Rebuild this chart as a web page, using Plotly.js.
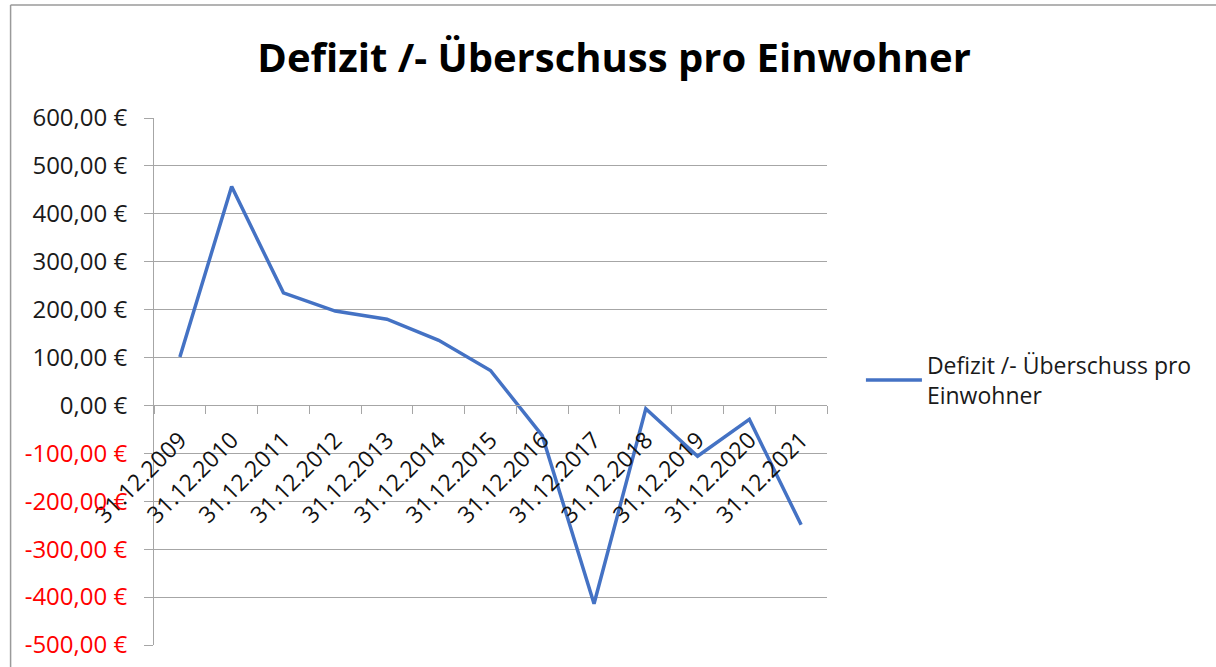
<!DOCTYPE html>
<html>
<head>
<meta charset="utf-8">
<script src="https://cdn.plot.ly/plotly-3.0.1.min.js"></script>
<style>
html,body{margin:0;padding:0;background:#fff;}
#chart{width:1216px;height:667px;}
</style>
</head>
<body>
<div id="chart"></div>
<script>
const categories = ["31.12.2009","31.12.2010","31.12.2011","31.12.2012","31.12.2013","31.12.2014","31.12.2015","31.12.2016","31.12.2017","31.12.2018","31.12.2019","31.12.2020","31.12.2021"];
const values = [101, 457, 235, 197, 180, 136, 73, -63, -414, -7, -106, -29, -249];
const seriesName = "Defizit /- Überschuss pro<br>Einwohner";
const chartTitle = "Defizit /- Überschuss pro Einwohner";
const yTickVals = [600, 500, 400, 300, 200, 100, 0, -100, -200, -300, -400, -500];
const yTickText = ["600,00 €","500,00 €","400,00 €","300,00 €","200,00 €","100,00 €","0,00 €","-100,00 €","-200,00 €","-300,00 €","-400,00 €","-500,00 €"];

const yMin = -500, yMax = 600;
const tickTextStyled = yTickText.map((t, i) => yTickVals[i] < 0 ? '<span style="color:#ff0000">' + t + '</span>' : t);

const font = "Open Sans, Noto Sans, Liberation Sans, sans-serif";

const trace = {
  x: categories,
  y: values,
  type: 'scatter',
  mode: 'lines',
  name: seriesName,
  line: {color: '#4472c4', width: 3.5},
  showlegend: true
};

const layout = {
  width: 1216,
  height: 667,
  margin: {l: 154, r: 389, t: 118, b: 22},
  paper_bgcolor: '#ffffff',
  plot_bgcolor: '#ffffff',
  font: {family: font, color: '#1a1a1a', size: 20},
  title: {
    text: chartTitle,
    font: {family: font, size: 40, color: '#000000', weight: 'bold'},
    x: 0.505, xref: 'container', xanchor: 'center',
    y: 0.913, yref: 'container', yanchor: 'middle'
  },
  xaxis: {
    type: 'category',
    range: [-0.5, categories.length - 0.5],
    anchor: 'free',
    position: (0 - yMin) / (yMax - yMin),
    showline: true, linecolor: '#a6a6a6', linewidth: 1,
    showgrid: false, zeroline: false,
    ticks: 'outside', tickson: 'boundaries', ticklen: 8, tickcolor: '#a6a6a6',
    tickangle: -45,
    ticklabelstandoff: 11,
    tickfont: {family: font, size: 23, color: '#111111'},
    fixedrange: true
  },
  yaxis: {
    range: [yMin, yMax],
    tickvals: yTickVals,
    ticktext: tickTextStyled,
    showline: true, linecolor: '#a6a6a6', linewidth: 1,
    showgrid: true, gridcolor: '#a6a6a6', gridwidth: 1,
    zeroline: false,
    ticks: 'outside', ticklen: 9, tickcolor: '#a6a6a6',
    ticklabelstandoff: 12,
    tickfont: {family: font, size: 24, color: '#1a1a1a'},
    fixedrange: true
  },
  legend: {
    x: 0.708, xref: 'container', xanchor: 'left',
    y: 0.43, yref: 'container', yanchor: 'middle',
    itemwidth: 56,
    font: {family: font, size: 23, color: '#1a1a1a'},
    bgcolor: 'rgba(0,0,0,0)'
  },
  shapes: [
    {type: 'line', xref: 'paper', yref: 'paper', x0: -0.2131, x1: 1.7, y0: 1.2142, y1: 1.2142, line: {color: '#9a9a9a', width: 1.5}},
    {type: 'line', xref: 'paper', yref: 'paper', x0: -0.2131, x1: -0.2131, y0: 1.2142, y1: -0.2, line: {color: '#9a9a9a', width: 1.5}}
  ],
  showlegend: true
};

Plotly.newPlot('chart', [trace], layout, {displayModeBar: false, staticPlot: true});
</script>
</body>
</html>
